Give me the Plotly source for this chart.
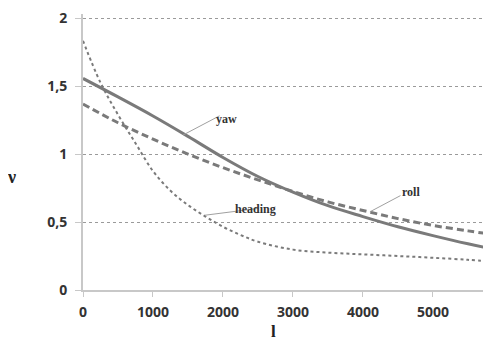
import plotly.graph_objects as go

l_vals = [0, 500, 1000, 1500, 2000, 2500, 3000, 3500, 4000, 4500, 5000, 5500, 5830]
yaw = [1.556, 1.42, 1.28, 1.13, 0.975, 0.835, 0.72, 0.62, 0.54, 0.465, 0.40, 0.34, 0.305]
roll = [1.368, 1.23, 1.11, 1.00, 0.90, 0.81, 0.725, 0.648, 0.585, 0.525, 0.475, 0.435, 0.41]
heading_l = [0, 250, 500, 750, 1000, 1250, 1500, 1750, 2000, 2250, 2500, 3000, 3500, 4000, 4500, 5000, 5500, 5830]
heading = [1.833, 1.525, 1.29, 1.08, 0.875, 0.73, 0.625, 0.54, 0.465, 0.405, 0.355, 0.297, 0.275, 0.262, 0.25, 0.237, 0.222, 0.208]

x_ticks = [0, 1000, 2000, 3000, 4000, 5000]
y_ticks = [0, 0.5, 1, 1.5, 2]
y_labels = ["0", "0,5", "1", "1,5", "2"]

col = "#7a7a7a"
fig = go.Figure()
fig.add_trace(go.Scatter(x=l_vals, y=yaw, mode="lines", name="yaw",
                         line=dict(color=col, width=3, shape="spline")))
fig.add_trace(go.Scatter(x=l_vals, y=roll, mode="lines", name="roll",
                         line=dict(color=col, width=3, dash="7px,4px", shape="spline")))
fig.add_trace(go.Scatter(x=heading_l, y=heading, mode="lines", name="heading",
                         line=dict(color=col, width=2, dash="dot", shape="spline")))

tickfont = dict(family="Open Sans", size=14, color="#333333", weight="bold")
# the page body has an 8px margin, so the figure is offset by 8px
fig.update_layout(
    width=483, height=334,
    margin=dict(l=75, r=0, t=6, b=52),
    plot_bgcolor="white", paper_bgcolor="white",
    showlegend=False,
    separators=",.",
    xaxis=dict(range=[0, 5830], tickvals=x_ticks, ticktext=[str(v) for v in x_ticks],
               showgrid=False, zeroline=False, showline=True, linecolor="#c8c8c8", linewidth=2,
               ticks="outside", ticklen=5, tickcolor="#c8c8c8", tickfont=tickfont,
               ticklabelstandoff=3, ticklabeloverflow="allow"),
    yaxis=dict(range=[0, 2.03], tickvals=y_ticks, ticktext=y_labels,
               showgrid=True, gridcolor="#9a9a9a", griddash="dot", gridwidth=1,
               zeroline=False, showline=True, linecolor="#c8c8c8", linewidth=2,
               ticks="outside", ticklen=6, tickcolor="#c8c8c8", tickfont=tickfont,
               ticklabelstandoff=5, ticklabeloverflow="allow"),
)

ann_font = dict(family="Liberation Serif", size=12, color="#333333", weight="bold")

def pointer(xd, yd, px, py, label, tx, ty):
    fig.add_annotation(x=xd, y=yd, xref="x", yref="y", showarrow=True, arrowhead=0,
                       arrowcolor="#a0a0a0", arrowwidth=1, ax=px, ay=py, text="")
    fig.add_annotation(x=tx, y=ty, xref="x", yref="y", text=label, showarrow=False,
                       font=ann_font)

pointer(1430, 1.14, 38, -20, "yaw", 2050, 1.26)
pointer(4100, 0.575, 32, -17, "roll", 4680, 0.72)
pointer(1743, 0.55, 55, -7, "heading", 2470, 0.595)

fig.add_annotation(x=-0.19, y=0.41, xref="paper", yref="paper", text="ν", showarrow=False,
                   font=dict(family="Liberation Serif", size=18, color="#222222", weight="bold"))
fig.add_annotation(x=0.466, y=-0.108, xref="paper", yref="paper", text="l", showarrow=False,
                   yanchor="top",
                   font=dict(family="Liberation Serif", size=17, color="#222222", weight="bold"))

fig.write_html("out.html")
